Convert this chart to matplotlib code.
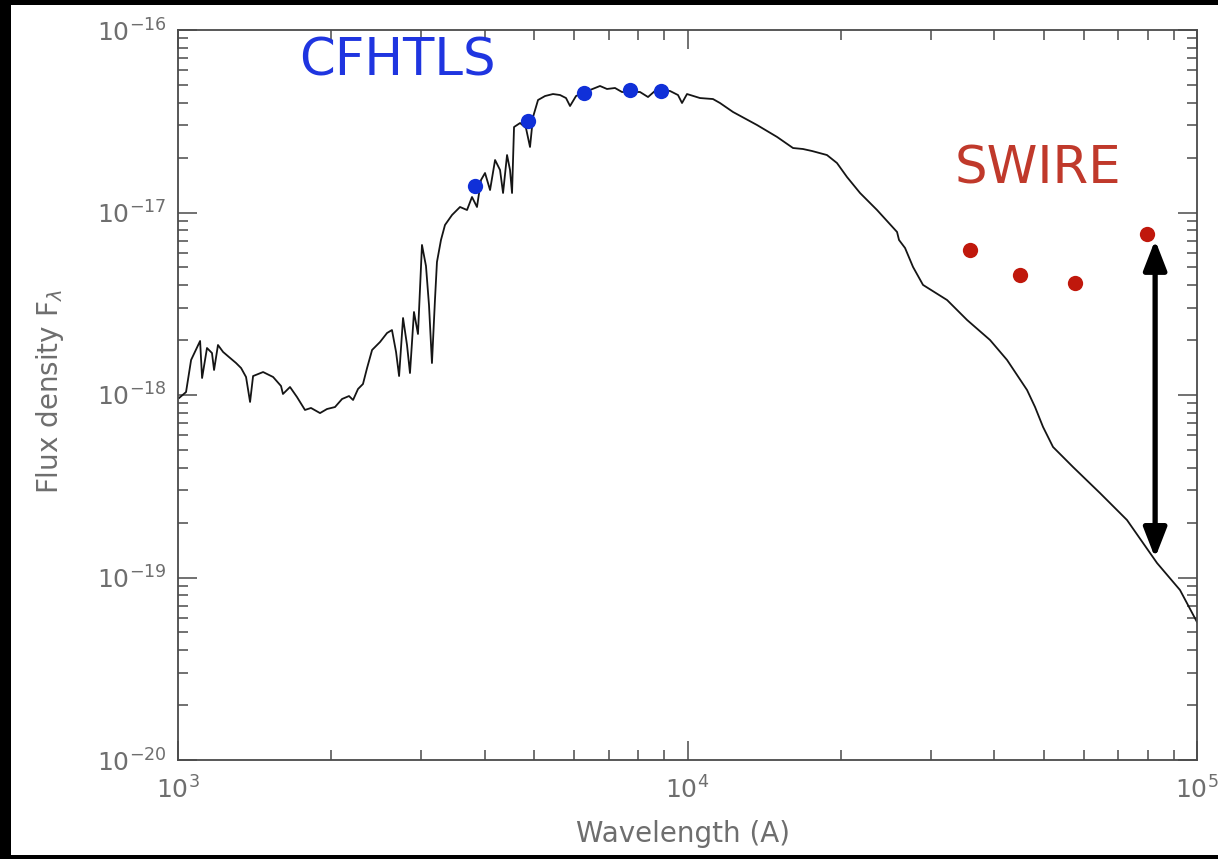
import matplotlib
matplotlib.use('Agg')
import matplotlib.pyplot as plt
from matplotlib.patches import Rectangle
from matplotlib.ticker import LogLocator, NullFormatter
import numpy as np

# Template galaxy spectrum, wavelength in Angstrom, flux in units of 1e-18
wave = np.array([
    1005, 1037, 1061, 1105, 1115, 1140, 1166, 1177, 1198, 1226,
    1259, 1300, 1330, 1360, 1385, 1404, 1469, 1537, 1593, 1607,
    1659, 1712, 1775, 1824, 1900, 1961, 2033, 2099, 2166, 2206,
    2256, 2307, 2350, 2404, 2492, 2572, 2630, 2679, 2716, 2765,
    2815, 2853, 2905, 2958, 3012, 3067, 3109, 3151, 3194, 3223,
    3282, 3342, 3450, 3577, 3692, 3776, 3862, 3933, 4005, 4097,
    4191, 4286, 4345, 4424, 4484, 4525, 4566, 4692, 4819, 4908,
    4975, 5089, 5253, 5445, 5622, 5775, 5881, 6042, 6437, 6734,
    6950, 7206, 7436, 8068, 8366, 8674, 9241, 9580, 9755, 9978,
    10581, 11220, 11581, 12285, 13690, 14990, 16110, 16850, 17550, 18780,
    19650, 20560, 21810, 23550, 25780, 26010, 26730, 27710, 28990, 32320,
    35380, 39240, 42380, 46390, 48100, 49870, 52170, 57110, 64520, 72880,
    83480, 92600, 100000])
flux = np.array([
    0.963, 1.038, 1.556, 1.977, 1.239, 1.809, 1.698, 1.371, 1.879, 1.721,
    1.615, 1.497, 1.405, 1.255, 0.916, 1.270, 1.336, 1.255, 1.120, 1.013,
    1.106, 0.975, 0.828, 0.849, 0.796, 0.838, 0.859, 0.951, 0.987, 0.939,
    1.079, 1.149, 1.405, 1.765, 1.952, 2.186, 2.270, 1.721, 1.270, 2.642,
    1.879, 1.319, 2.850, 2.159, 6.64, 5.09, 3.112, 1.497, 3.314, 5.355,
    7.07, 8.54, 9.69, 10.72, 10.32, 12.16, 10.72, 15.07, 16.46, 13.28,
    19.39, 17.10, 12.79, 20.65, 17.10, 12.79, 29.40, 30.92, 29.04, 22.86,
    33.35, 41.34, 43.47, 44.58, 44.02, 42.38, 38.33, 43.47, 46.91, 49.34,
    47.51, 48.11, 45.74, 45.74, 42.93, 46.91, 46.32, 44.02, 39.81, 44.58,
    42.38, 41.85, 39.81, 35.54, 30.16, 25.94, 22.56, 22.28, 21.73, 20.65,
    18.67, 15.65, 12.79, 10.32, 7.82, 7.07, 6.39, 5.03, 4.01, 3.314,
    2.576, 2.002, 1.556, 1.065, 0.859, 0.668, 0.519, 0.403, 0.290, 0.2065,
    0.120, 0.0854, 0.0570])

# CFHTLS u g r i z photometry
cfhtls_wave = [3830, 4860, 6270, 7710, 8870]
cfhtls_flux = [1.40e-17, 3.17e-17, 4.52e-17, 4.69e-17, 4.63e-17]

# SWIRE IRAC photometry
swire_wave = [35800, 45000, 57500, 79800]
swire_flux = [6.24e-18, 4.55e-18, 4.11e-18, 7.62e-18]

# excess between the 8 micron point and the model
arrow_wave = 82760
arrow_top = 7.07e-18
arrow_bottom = 1.28e-19

label_gray = '#6e6e6e'
axis_gray = '#4a4a4a'

fig = plt.figure(figsize=(12.18, 8.59), dpi=100, facecolor='black')
fig.add_artist(Rectangle((11 / 1218, 4 / 859), 1 - 11 / 1218, 1 - 9 / 859,
                         transform=fig.transFigure, facecolor='white',
                         edgecolor='none', zorder=-10))

ax = fig.add_axes([178 / 1218, 1 - 760 / 859, 1019 / 1218, 730 / 859])
ax.set_facecolor('white')
ax.set_xscale('log')
ax.set_yscale('log')
ax.set_xlim(1e3, 1e5)
ax.set_ylim(1e-20, 1e-16)

ax.plot(wave, flux * 1e-18, color='#151515', lw=1.3, zorder=2)
ax.plot(cfhtls_wave, cfhtls_flux, 'o', color='#1030d8', markersize=11,
        markeredgewidth=0, zorder=3)
ax.plot(swire_wave, swire_flux, 'o', color='#c0180c', markersize=11,
        markeredgewidth=0, zorder=3)

ax.annotate('', xy=(arrow_wave, arrow_top), xytext=(arrow_wave, arrow_bottom),
            arrowprops=dict(arrowstyle='<|-|>,head_length=0.9,head_width=0.35',
                            lw=3.8, color='black', mutation_scale=20,
                            shrinkA=0, shrinkB=0), zorder=4)

for axis in (ax.xaxis, ax.yaxis):
    axis.set_major_locator(LogLocator(base=10, numticks=10))
    axis.set_minor_locator(LogLocator(base=10, subs=np.arange(2, 10), numticks=20))
    axis.set_minor_formatter(NullFormatter())

ax.tick_params(which='both', direction='in', top=True, right=True,
               color=axis_gray, width=1.1)
ax.tick_params(which='major', length=14, labelsize=18, labelcolor=label_gray)
ax.tick_params(which='minor', length=7)
ax.tick_params(axis='x', which='major', pad=12)
ax.tick_params(axis='y', which='major', pad=8)
for spine in ax.spines.values():
    spine.set_color(axis_gray)
    spine.set_linewidth(1.3)

fig.text(683 / 1218, 1 - 834 / 859, 'Wavelength (A)', ha='center', va='center',
         fontsize=20, color=label_gray)
fig.text(50 / 1218, 1 - 392 / 859, r'Flux density F$_\lambda$', ha='center',
         va='center', rotation=90, fontsize=20, color=label_gray)

fig.text(397 / 1218, 1 - 75 / 859, 'CFHTLS', ha='center', va='baseline',
         fontsize=37, color='#1f35e0')
fig.text(1038 / 1218, 1 - 183 / 859, 'SWIRE', ha='center', va='baseline',
         fontsize=37, color='#c0392b')

fig.savefig('out.png', dpi=100, facecolor=fig.get_facecolor())
